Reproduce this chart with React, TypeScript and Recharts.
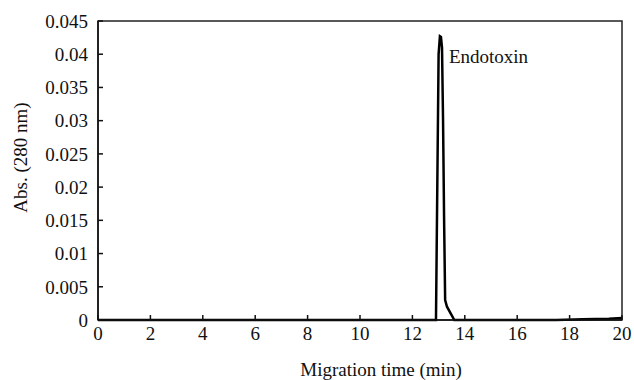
import React from 'react'
import { LineChart, Line, XAxis, YAxis, ReferenceArea } from 'recharts'

// electropherogram trace
const migrationTime = [0, 12.8, 12.9, 12.95, 13.0, 13.05, 13.09, 13.13, 13.17, 13.21, 13.25, 13.32, 13.46, 13.6, 17.5, 18.5, 19.5, 20]
const absorbance = [0, 0, 0, 0.02, 0.04, 0.0427, 0.0426, 0.041, 0.03, 0.015, 0.003, 0.002, 0.001, 0, 0, 0.0001, 0.0002, 0.0003]

const xTicks = [0, 2, 4, 6, 8, 10, 12, 14, 16, 18, 20]
const yTicks = [0, 0.005, 0.01, 0.015, 0.02, 0.025, 0.03, 0.035, 0.04, 0.045]
const yTickLabels = ['0', '0.005', '0.01', '0.015', '0.02', '0.025', '0.03', '0.035', '0.04', '0.045']

const peakLabel = 'Endotoxin'

const data = migrationTime.map((t, i) => ({ t, abs: absorbance[i] }))

const font = '"Liberation Serif", "Times New Roman", serif'
const tickStyle = { fill: '#111', fontSize: 19, fontFamily: font }

const PeakLabel = (props: any) => {
  const { x, y, index } = props
  // only the apex gets the name
  if (index !== 5) return null
  return (
    <text x={x + 9} y={y + 27} fill="#111" fontSize={19} fontFamily={font}>
      {peakLabel}
    </text>
  )
}

const YTitle = (props: any) => {
  const { viewBox } = props
  const cx = 20
  const cy = viewBox.y + viewBox.height / 2 - 13
  return (
    <text
      x={cx}
      y={cy}
      transform={`rotate(-90, ${cx}, ${cy})`}
      textAnchor="middle"
      dominantBaseline="central"
      fill="#111"
      fontSize={19}
      fontFamily={font}
    >
      Abs. (280 nm)
    </text>
  )
}

export default function App() {
  return (
    <div style={{ position: 'absolute', left: 0, top: 0, background: '#fff' }}>
      <LineChart
        width={634}
        height={380}
        data={data}
        margin={{ top: 21, right: 12, bottom: 0, left: 0 }}
      >
        <XAxis
          dataKey="t"
          type="number"
          domain={[0, 20]}
          ticks={xTicks}
          interval={0}
          height={60}
          stroke="#111"
          strokeWidth={1.5}
          tickSize={-5}
          tickMargin={12}
          tick={tickStyle}
          label={{
            value: 'Migration time (min)',
            position: 'insideBottom',
            offset: 4,
            dx: 21,
            fill: '#111',
            fontSize: 19,
            fontFamily: font,
          }}
        />
        <YAxis
          type="number"
          domain={[0, 0.045]}
          ticks={yTicks}
          interval={0}
          width={98}
          stroke="#111"
          strokeWidth={1.5}
          tickSize={-5}
          tickMargin={15}
          tick={tickStyle}
          tickFormatter={(v: number) => yTickLabels[yTicks.indexOf(v)] ?? String(v)}
          label={{ content: <YTitle /> }}
        />
        {/* plot frame */}
        <ReferenceArea
          x1={0}
          x2={20}
          y1={0}
          y2={0.045}
          fill="none"
          fillOpacity={0}
          stroke="#222"
          strokeWidth={1.5}
          ifOverflow="visible"
        />
        <Line
          type="linear"
          dataKey="abs"
          stroke="#000"
          strokeWidth={2.5}
          dot={false}
          label={<PeakLabel />}
          isAnimationActive={false}
        />
      </LineChart>
    </div>
  )
}
